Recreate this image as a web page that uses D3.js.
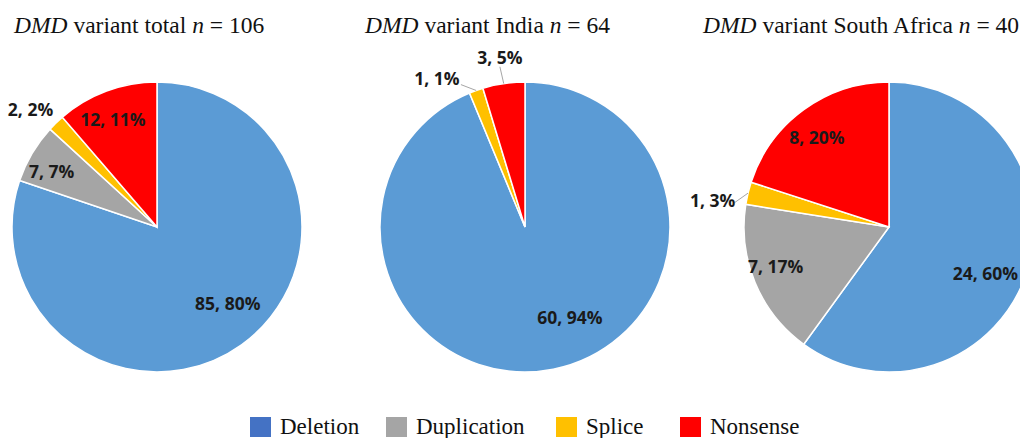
<!DOCTYPE html>
<html>
<head>
<meta charset="utf-8">
<script src="https://cdn.jsdelivr.net/npm/d3@7"></script>
<style>
  body { margin: 0; background: #fff; }
  svg { display: block; }
</style>
</head>
<body>
<div id="chart"></div>
<script>
// variant types, in the order they are drawn clockwise from 12 o'clock
let categories = ['Deletion', 'Duplication', 'Splice', 'Nonsense'];

// counts per pie
let totalValues = [85, 7, 2, 12];
let indiaValues = [60, 0, 1, 3];
let southAfricaValues = [24, 7, 1, 8];

// percentages as printed on the labels
let totalPercents = [80, 7, 2, 11];
let indiaPercents = [94, 0, 1, 5];
let southAfricaPercents = [60, 17, 3, 20];

let pieNames = ['total', 'India', 'South Africa'];
let pieTotals = [106, 64, 40];

let sliceColors = ['#5b9bd5', '#a5a5a5', '#ffc000', '#ff0000'];
let legendColors = ['#4472c4', '#a5a5a5', '#ffc000', '#ff0000'];

(function () {
    let width = 1020, height = 438;
    let svg = d3.select('#chart').append('svg')
        .attr('width', width)
        .attr('height', height);

    let radius = 145;
    let cy = 227;

    // layout of each pie: centre, title start, label placement tweaks
    // label: [radius factor, angle shift in degrees], null = default
    let layout = [
        { cx: 157, titleX: 14, values: totalValues, percents: totalPercents,
          labels: [[0.72, -7], [0.82, -3], [1.19, -3], [0.8, -2]] },
        { cx: 525, titleX: 365, values: indiaValues, percents: indiaPercents,
          labels: [[0.7, -15], null, [1.19, -11], [1.18, 0]] },
        { cx: 889, titleX: 703, values: southAfricaValues, percents: southAfricaPercents,
          labels: [[0.74, 8], [0.83, 3], [1.23, -5], [0.79, -3]] }
    ];

    let pie = d3.pie().sort(null).value(function (d) { return d; });
    let arc = d3.arc().innerRadius(0).outerRadius(radius);

    layout.forEach(function (p, k) {
        let g = svg.append('g')
            .attr('transform', 'translate(' + p.cx + ',' + cy + ')');

        let arcs = pie(p.values);

        g.selectAll('path')
            .data(arcs.filter(function (d) { return d.value > 0; }))
            .enter()
            .append('path')
            .attr('d', arc)
            .attr('fill', function (d) { return sliceColors[d.index]; })
            .attr('stroke', '#fff')
            .attr('stroke-width', 1.5);

        arcs.forEach(function (d, i) {
            if (d.value === 0) return;
            let mid = (d.startAngle + d.endAngle) / 2;
            let opt = p.labels[i] || [0.72, 0];
            let a = mid + opt[1] * Math.PI / 180;
            let rr = radius * opt[0];
            let lx = rr * Math.sin(a), ly = -rr * Math.cos(a);

            if (opt[0] > 1) {
                // leader line from slice edge towards the label
                let ex = radius * Math.sin(mid), ey = -radius * Math.cos(mid);
                let tx = lx, ty = ly + 9;
                if (Math.abs(lx) > 40 && Math.abs(ly) < 60) {
                    tx = lx + 22; ty = ly + 2;
                } else if (Math.abs(lx - ex) > 25) {
                    tx = lx + 24; ty = ly + 6;
                }
                let dist = Math.hypot(tx - ex, ty - ey);
                if (dist > 12) {
                    g.append('polyline')
                        .attr('points', [[ex, ey], [tx, ty]].join(' '))
                        .attr('fill', 'none')
                        .attr('stroke', '#a6a6a6')
                        .attr('stroke-width', 1);
                }
            }

            g.append('text')
                .attr('x', lx)
                .attr('y', ly)
                .attr('dy', '0.36em')
                .attr('text-anchor', 'middle')
                .style('font-family', '"Open Sans", "Liberation Sans", sans-serif')
                .style('font-weight', 'bold')
                .style('font-size', '17.5px')
                .attr('fill', '#1a1a1a')
                .text(d.value + ', ' + p.percents[i] + '%');
        });

        // title
        let t = svg.append('text')
            .attr('x', p.titleX)
            .attr('y', 33)
            .style('font-family', '"Liberation Serif", "Times New Roman", serif')
            .style('font-size', '23.5px')
            .attr('fill', '#111');
        t.append('tspan').style('font-style', 'italic').text('DMD');
        t.append('tspan').text(' variant ' + pieNames[k] + ' ');
        t.append('tspan').style('font-style', 'italic').text('n');
        t.append('tspan').text(' = ' + pieTotals[k]);
    });

    // legend
    let legendX = [250, 386, 556, 680];
    let legend = svg.selectAll('.legend')
        .data(categories)
        .enter()
        .append('g')
        .attr('class', 'legend')
        .attr('transform', function (d, i) {
            return 'translate(' + legendX[i] + ',417)';
        });

    legend.append('rect')
        .attr('width', 21)
        .attr('height', 20)
        .attr('fill', function (d, i) { return legendColors[i]; });

    legend.append('text')
        .attr('x', 30)
        .attr('y', 17)
        .style('font-family', '"Liberation Serif", "Times New Roman", serif')
        .style('font-size', '23px')
        .attr('fill', '#111')
        .text(function (d) { return d; });
})();
</script>
</body>
</html>
